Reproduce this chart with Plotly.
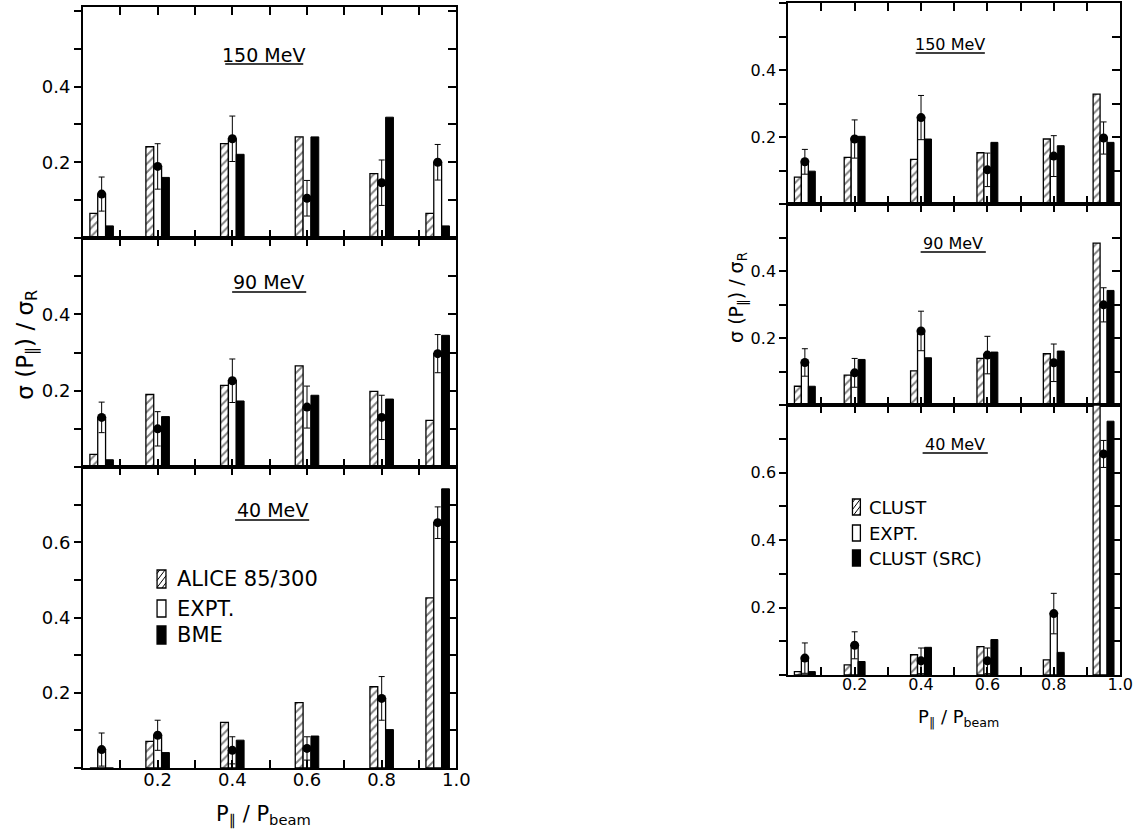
import plotly.graph_objects as go

W, H = 1148, 836

# ---------------- data ----------------
positions = [0.05, 0.2, 0.4, 0.6, 0.8, 0.95]
x_major = [0.2, 0.4, 0.6, 0.8, 1.0]
x_major_text = ["0.2", "0.4", "0.6", "0.8", "1.0"]

# Left figure: ALICE 85/300, EXPT., BME
L150_alice = [0.065, 0.241, 0.249, 0.267, 0.170, 0.065]
L150_expt = [0.116, 0.189, 0.262, 0.105, 0.146, 0.200]
L150_err = [0.045, 0.060, 0.060, 0.047, 0.060, 0.047]
L150_bme = [0.032, 0.160, 0.221, 0.267, 0.319, 0.032]

L90_alice = [0.033, 0.190, 0.214, 0.265, 0.198, 0.122]
L90_expt = [0.130, 0.100, 0.226, 0.157, 0.130, 0.297]
L90_err = [0.040, 0.045, 0.057, 0.055, 0.058, 0.050]
L90_bme = [0.019, 0.132, 0.173, 0.188, 0.178, 0.345]

L40_alice = [0.0, 0.071, 0.121, 0.174, 0.216, 0.452]
L40_expt = [0.049, 0.087, 0.047, 0.052, 0.185, 0.652]
L40_err = [0.044, 0.040, 0.036, 0.031, 0.058, 0.042]
L40_bme = [0.0, 0.041, 0.074, 0.085, 0.102, 0.742]

# Right figure: CLUST, EXPT., CLUST (SRC)
R150_clust = [0.080, 0.139, 0.133, 0.153, 0.194, 0.328]
R150_expt = [0.126, 0.194, 0.258, 0.102, 0.143, 0.197]
R150_err = [0.037, 0.057, 0.066, 0.050, 0.061, 0.048]
R150_src = [0.098, 0.202, 0.194, 0.184, 0.174, 0.184]

R90_clust = [0.056, 0.089, 0.102, 0.139, 0.153, 0.483]
R90_expt = [0.127, 0.096, 0.221, 0.149, 0.126, 0.299]
R90_err = [0.041, 0.043, 0.059, 0.056, 0.056, 0.051]
R90_src = [0.056, 0.136, 0.141, 0.158, 0.161, 0.342]

R40_clust = [0.010, 0.030, 0.060, 0.084, 0.045, 0.800]
R40_expt = [0.050, 0.088, 0.042, 0.042, 0.182, 0.655]
R40_err = [0.045, 0.040, 0.038, 0.038, 0.060, 0.040]
R40_src = [0.010, 0.040, 0.082, 0.105, 0.067, 0.752]

y_major_small = [0.2, 0.4]
y_major_large = [0.2, 0.4, 0.6]

energy_labels = ["150 MeV", "90 MeV", "40 MeV"]
left_legend = ["ALICE 85/300", "EXPT.", "BME"]
right_legend = ["CLUST", "EXPT.", "CLUST (SRC)"]

FONT = "DejaVu Sans"
BW = 0.021


def px(x):
    return x / W


def py(y):
    return 1 - y / H


panels = [
    ((84, 462), (7, 238), 0.61, (L150_alice, L150_expt, L150_err, L150_bme), False, "L"),
    ((84, 462), (238, 467), 0.60, (L90_alice, L90_expt, L90_err, L90_bme), False, "L"),
    ((84, 462), (467, 768), 0.80, (L40_alice, L40_expt, L40_err, L40_bme), True, "L"),
    ((798, 1134), (3, 204), 0.60, (R150_clust, R150_expt, R150_err, R150_src), False, "R"),
    ((798, 1134), (204, 405), 0.60, (R90_clust, R90_expt, R90_err, R90_src), False, "R"),
    ((798, 1134), (405, 675), 0.80, (R40_clust, R40_expt, R40_err, R40_src), True, "R"),
]

fig = go.Figure()
layout = {}

for i, (xd, yd, ymax, (hat, expt, err, blk), is_bottom, side) in enumerate(panels):
    k = i + 1
    xa = "x" if k == 1 else f"x{k}"
    ya = "y" if k == 1 else f"y{k}"
    tsize = 18 if side == "L" else 16
    x_h = [p - BW for p in positions]
    x_b = [p + BW for p in positions]
    fig.add_trace(go.Bar(x=x_h, y=hat, width=BW, xaxis=xa, yaxis=ya,
                         marker=dict(color="white", line=dict(color="black", width=1.3),
                                     pattern=dict(shape="/", fgcolor="black", bgcolor="white",
                                                  size=6, solidity=0.32)),
                         showlegend=False))
    fig.add_trace(go.Bar(x=positions, y=expt, width=BW, xaxis=xa, yaxis=ya,
                         marker=dict(color="white", line=dict(color="black", width=1.3)),
                         showlegend=False))
    fig.add_trace(go.Bar(x=x_b, y=blk, width=BW, xaxis=xa, yaxis=ya,
                         marker=dict(color="black", line=dict(color="black", width=1)),
                         showlegend=False))
    fig.add_trace(go.Scatter(x=positions, y=expt, mode="markers", xaxis=xa, yaxis=ya,
                             marker=dict(color="black", size=9),
                             error_y=dict(type="data", array=err, color="black",
                                          thickness=1, width=3),
                             showlegend=False))
    ymaj = y_major_large if ymax > 0.7 else y_major_small
    xdom = [px(xd[0]), px(xd[1])]
    ydom = [py(yd[1]), py(yd[0])]
    layout[f"xaxis{k}"] = dict(
        domain=xdom, anchor=ya, range=[0, 1.0], showgrid=False, zeroline=False,
        showline=True, linecolor="black", linewidth=2, mirror="ticks",
        ticks="inside", ticklen=8, tickwidth=1.5, tickcolor="black",
        tickvals=x_major, ticktext=x_major_text, showticklabels=is_bottom,
        ticklabelstandoff=-6,
        minor=dict(dtick=0.1, tick0=0, ticks="inside", ticklen=8, tickwidth=1.5,
                   tickcolor="black", showgrid=False),
        tickfont=dict(family=FONT, size=tsize, color="black"), fixedrange=True)
    layout[f"yaxis{k}"] = dict(
        domain=ydom, anchor=xa, range=[0, ymax], showgrid=False, zeroline=False,
        showline=True, linecolor="black", linewidth=2, mirror=True,
        ticks="outside", ticklen=7, tickwidth=1.5, tickcolor="black",
        tickvals=ymaj, tickformat=".1f",
        minor=dict(dtick=0.1, tick0=0, ticks="outside", ticklen=7, tickwidth=1.5,
                   tickcolor="black", showgrid=False),
        tickfont=dict(family=FONT, size=tsize, color="black"), fixedrange=True)
    k2 = k + 6
    layout[f"yaxis{k2}"] = dict(
        overlaying=ya, side="right", anchor=xa, range=[0, ymax], showgrid=False,
        zeroline=False, showline=False, ticks="inside", ticklen=8, tickwidth=1.5,
        tickcolor="black", tickvals=ymaj, showticklabels=False,
        minor=dict(dtick=0.1, tick0=0, ticks="inside", ticklen=8, tickwidth=1.5,
                   tickcolor="black", showgrid=False),
        fixedrange=True)
    fig.add_trace(go.Scatter(x=[None], y=[None], xaxis=xa, yaxis=f"y{k2}",
                             showlegend=False, hoverinfo="skip"))

annotations = []
shapes = []

# Panel titles with underlines
titles = [
    (energy_labels[0], 267, 55, 228, 307, 64, 19),
    (energy_labels[1], 272, 282, 235, 310, 292, 19),
    (energy_labels[2], 276, 510, 238, 313, 520, 19),
    (energy_labels[0], 962, 45, 927, 997, 53, 16),
    (energy_labels[1], 965, 243, 932, 998, 252, 16),
    (energy_labels[2], 967, 444, 934, 1000, 453, 16),
]
for t, cx, cy, x0, x1, uy, fs in titles:
    annotations.append(dict(text=t, x=px(cx), y=py(cy), xref="paper", yref="paper",
                            showarrow=False, font=dict(family=FONT, size=fs, color="black"),
                            xanchor="center", yanchor="middle"))
    shapes.append(dict(type="line", xref="paper", yref="paper", x0=px(x0), x1=px(x1),
                       y0=py(uy), y1=py(uy), line=dict(color="black", width=1.5)))

# Axis titles
ytitle = "σ (P<sub>∥</sub>) / σ<sub>R</sub>"
xtitle = "P<sub>∥</sub> / P<sub>beam</sub>"
for txt, cx, cy, fs, ang in [(ytitle, 27, 345, 23, -90), (ytitle, 746, 297, 19, -90),
                             (xtitle, 267, 815, 21, 0), (xtitle, 970, 718, 18, 0)]:
    annotations.append(dict(text=txt, x=px(cx), y=py(cy), xref="paper", yref="paper",
                            showarrow=False, textangle=ang, xanchor="center",
                            yanchor="middle", font=dict(family=FONT, size=fs, color="black")))


def hatch_lines(x0, x1, y0, y1, step):
    # diagonal lines (lower-left to upper-right) clipped to rect in pixel space
    out = []
    w = x1 - x0
    slope = 1.3
    c = y0 + step / 2
    while c < y1 + w * slope:
        pts = []
        for x in (x0, x1):
            y = c - slope * (x - x0)
            if y0 <= y <= y1:
                pts.append((x, y))
        for y in (y0, y1):
            x = x0 + (c - y) / slope
            if x0 < x < x1:
                pts.append((x, y))
        if len(pts) >= 2:
            pts = sorted(pts)
            out.append((pts[0], pts[-1]))
        c += step
    return out


def legend_block(labels, sx0, sx1, rows, tx, fs):
    for j, (lab, (y0, y1)) in enumerate(zip(labels, rows)):
        fill = "black" if j == 2 else "white"
        shapes.append(dict(type="rect", xref="paper", yref="paper",
                           x0=px(sx0), x1=px(sx1), y0=py(y1), y1=py(y0),
                           line=dict(color="black", width=1.3), fillcolor=fill))
        if j == 0:
            for (a, b) in hatch_lines(sx0, sx1, y0, y1, 7):
                shapes.append(dict(type="line", xref="paper", yref="paper",
                                   x0=px(a[0]), y0=py(a[1]), x1=px(b[0]), y1=py(b[1]),
                                   line=dict(color="black", width=1)))
        annotations.append(dict(text=lab, x=px(tx), y=py((y0 + y1) / 2), xref="paper",
                                yref="paper", showarrow=False, xanchor="left",
                                yanchor="middle",
                                font=dict(family=FONT, size=fs, color="black")))


legend_block(left_legend, 159, 168, [(570, 588), (600, 617), (626, 644)], 177, 21)
legend_block(right_legend, 863, 871, [(499, 515), (525, 541), (550, 566)], 878, 18)

fig.update_layout(
    width=W, height=H, margin=dict(l=0, r=0, t=0, b=0),
    paper_bgcolor="white", plot_bgcolor="white", barmode="overlay",
    showlegend=False, annotations=annotations, shapes=shapes, **layout)

fig.write_html("out.html", config={"displayModeBar": False},
               post_script="document.body.style.margin='0px';document.body.style.overflow='hidden';")
